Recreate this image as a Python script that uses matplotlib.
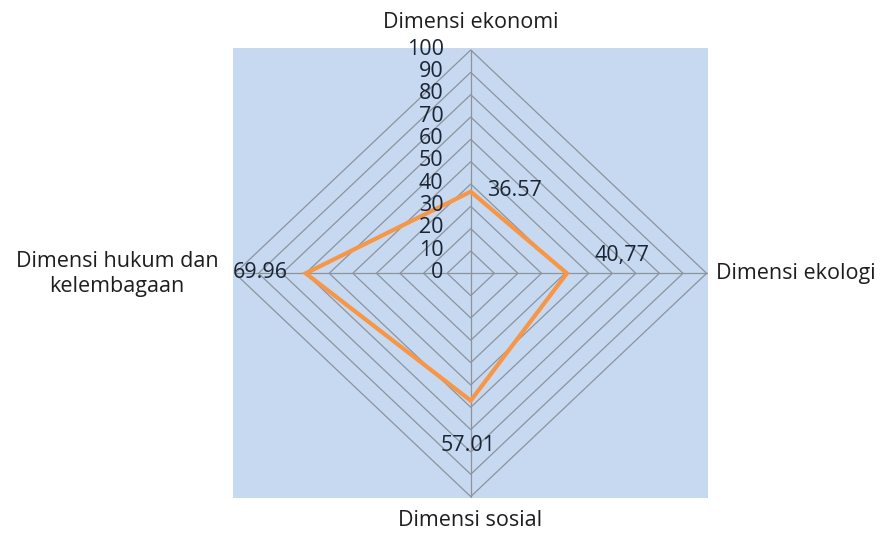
import numpy as np
import matplotlib
matplotlib.use("Agg")
import matplotlib.pyplot as plt
from matplotlib.patches import Polygon

plt.rcParams['font.family'] = ['Open Sans', 'DejaVu Sans']

# Dimensions, clockwise from the top
categories = ["Dimensi ekonomi", "Dimensi ekologi", "Dimensi sosial",
              "Dimensi hukum dan\nkelembagaan"]
values = [36.57, 40.77, 57.01, 69.96]
value_labels = ["36.57", "40,77", "57.01", "69.96"]
ring_levels = [0, 10, 20, 30, 40, 50, 60, 70, 80, 90, 100]

W, H = 888, 535
fig = plt.figure(figsize=(W / 100, H / 100), dpi=100)

# plot area (pixel box of the shaded rectangle)
px_left, px_right, px_top, px_bottom = 233, 708, 48, 497.5
ax = fig.add_axes([px_left / W, 1 - px_bottom / H,
                   (px_right - px_left) / W, (px_bottom - px_top) / H])
ax.set_facecolor("#c6d9f0")
ax.set_xlim(-100.8, 100.6)
ax.set_ylim(-100.4, 100.9)
for s in ax.spines.values():
    s.set_visible(False)
ax.set_xticks([])
ax.set_yticks([])

angles = np.linspace(0, 2 * np.pi, len(categories), endpoint=False)
sx, sy = np.sin(angles), np.cos(angles)

grid_kw = dict(edgecolor="#8d939c", lw=0.9, fill=False, zorder=1)
# diamond rings
for r in ring_levels[1:]:
    ax.add_patch(Polygon(np.column_stack([r * sx, r * sy]), closed=True, **grid_kw))
# spokes
for x, y in zip(sx, sy):
    ax.plot([0, 100 * x], [0, 100 * y], color="#8d939c", lw=0.9, zorder=1)

# data polygon
v = np.array(values)
ax.add_patch(Polygon(np.column_stack([v * sx, v * sy]), closed=True, fill=False,
                     edgecolor="#f79646", lw=3.0, joinstyle="miter", zorder=3))

num_color = "#1a2433"
txt_color = "#1e1e1e"
fs = 15.5
# radial tick labels along the top spoke
for r in ring_levels:
    ax.text(-11.5, r + 0.3, str(r), ha="right", va="center", fontsize=fs,
            color=num_color, zorder=4)

# value labels
ax.text(v[0] * sx[0] + 7, v[0] * sy[0] + 0.5, value_labels[0], ha="left",
        va="center", fontsize=fs, color=num_color, zorder=4)
ax.text(v[1] * sx[1] + 11.8, v[1] * sy[1] + 8, value_labels[1], ha="left",
        va="center", fontsize=fs, color=num_color, zorder=4)
ax.text(v[2] * sx[2] - 1, v[2] * sy[2] - 20, value_labels[2], ha="center",
        va="center", fontsize=fs, color=num_color, zorder=4)
ax.text(v[3] * sx[3] - 7.5, v[3] * sy[3] + 0.3, value_labels[3], ha="right",
        va="center", fontsize=fs, color=num_color, zorder=4, clip_on=False)

# category labels (figure pixel positions)
def fig_text(x, y, s, **kw):
    fig.text(x / W, 1 - y / H, s, fontsize=fs, color=txt_color, **kw)

fig_text(471, 22, categories[0], ha="center", va="center")
fig_text(716, 273, categories[1], ha="left", va="center")
fig_text(470, 520, categories[2], ha="center", va="center")
fig_text(117, 274, categories[3], ha="center", va="center", linespacing=1.2,
         multialignment="center")

fig.savefig("out.png", dpi=100, facecolor="white")
